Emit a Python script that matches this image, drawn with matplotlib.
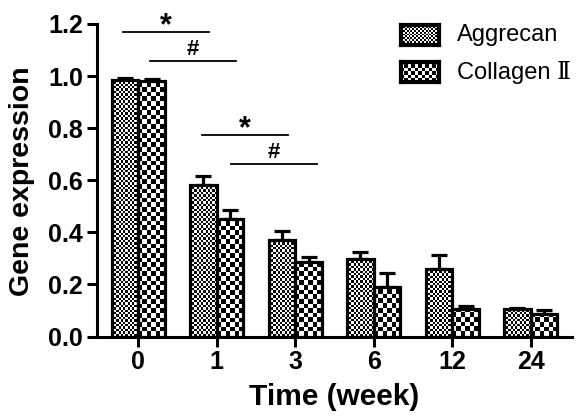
import numpy as np
import matplotlib
matplotlib.use("Agg")
import matplotlib.pyplot as plt

# data
weeks = ["0", "1", "3", "6", "12", "24"]
series_names = ["Aggrecan", "Collagen Ⅱ"]
aggrecan = [0.985, 0.583, 0.372, 0.297, 0.260, 0.106]
aggrecan_err = [0.008, 0.033, 0.032, 0.027, 0.052, 0.003]
collagen = [0.981, 0.453, 0.286, 0.192, 0.104, 0.087]
collagen_err = [0.006, 0.032, 0.019, 0.051, 0.015, 0.016]

# significance marks: (x0, x1, y, symbol)
sig_lines = [(-0.195, 0.90, 1.170, "*"),
             (0.149, 1.245, 1.058, "#"),
             (0.811, 1.906, 0.774, "*"),
             (1.177, 2.272, 0.661, "#")]

plt.rcParams['font.family'] = ['Liberation Sans', 'DejaVu Serif']

W, H = 585, 416
fig = plt.figure(figsize=(W / 100, H / 100), dpi=100)
ax = fig.add_axes([97 / W, 1 - 336.5 / H, 475 / W, 312.5 / H])

x = np.arange(len(weeks))
bw = 0.34
lw = 2.3
cells = [2.4, 4.6]  # checker cell size in pixels for each series


def checker(h, w, cell):
    yy, xx = np.indices((int(np.ceil(h / cell)), int(np.ceil(w / cell))))
    return (yy + xx) % 2


ax.set_xlim(-0.526, 5.525)
ax.set_ylim(0, 1.2)

px_per_x = 475 / (5.525 + 0.526)
px_per_y = 312.5 / 1.2

for i, (vals, errs) in enumerate([(aggrecan, aggrecan_err), (collagen, collagen_err)]):
    pos = x + (i - 0.5) * bw
    ax.errorbar(pos, vals, yerr=[np.zeros(len(vals)), errs], fmt='none',
                ecolor='black', elinewidth=lw, capsize=6, capthick=lw, zorder=1)
    bars = ax.bar(pos, vals, bw, facecolor='none', edgecolor='black',
                  linewidth=lw, zorder=3)
    for b in bars:
        bx, by = b.get_x(), b.get_y()
        bwid, bht = b.get_width(), b.get_height()
        img = checker(bht * px_per_y, bwid * px_per_x, cells[i])
        im = ax.imshow(img, cmap='gray', interpolation='nearest', aspect='auto',
                       extent=(bx, bx + bwid, 0, img.shape[0] * cells[i] / px_per_y),
                       origin='lower', zorder=2)
        im.set_clip_path(b)

ax.set_xlim(-0.526, 5.525)
ax.set_ylim(0, 1.2)

for x0, x1, y, sym in sig_lines:
    ax.plot([x0, x1], [y, y], color='black', lw=1.3, clip_on=False, zorder=4)
    if sym == "*":
        ax.text((x0 + x1) / 2, y - 0.010, sym, ha='center', va='baseline',
                fontsize=22, fontweight='bold')
    else:
        ax.text((x0 + x1) / 2, y + 0.023, sym, ha='center', va='baseline',
                fontsize=16, fontweight='bold')

ax.spines['top'].set_visible(False)
ax.spines['right'].set_visible(False)
ax.spines['left'].set_linewidth(2.2)
ax.spines['bottom'].set_linewidth(2.2)
ax.set_xticks(x)
ax.set_xticklabels(weeks)
ax.set_yticks(np.arange(0, 1.21, 0.2))
ax.set_yticklabels([f"{v:.1f}" for v in np.arange(0, 1.21, 0.2)])
ax.tick_params(width=2.2, length=7, labelsize=18, pad=3)
for lab in ax.get_xticklabels() + ax.get_yticklabels():
    lab.set_fontweight('bold')

ax.set_xlabel("Time (week)", fontsize=21.5, fontweight='bold', labelpad=6)
fig.text(22 / W, 1 - 181.5 / H, "Gene expression", rotation=90, ha='center',
         va='center', fontsize=20.5, fontweight='bold')

# legend drawn by hand so the swatches carry the checker fill
for i, name in enumerate(series_names):
    top = 25 + i * 37
    sw = fig.add_axes([401 / W, 1 - (top + 20) / H, 38 / W, 20 / H])
    sw.imshow(checker(20, 38, cells[i] * 0.8), cmap='gray', interpolation='nearest',
              aspect='auto')
    sw.set_xticks([])
    sw.set_yticks([])
    for s in sw.spines.values():
        s.set_linewidth(3)
    fig.text(457 / W, 1 - (top + 10) / H, name, ha='left', va='center', fontsize=17)

fig.savefig("out.png", dpi=100)
